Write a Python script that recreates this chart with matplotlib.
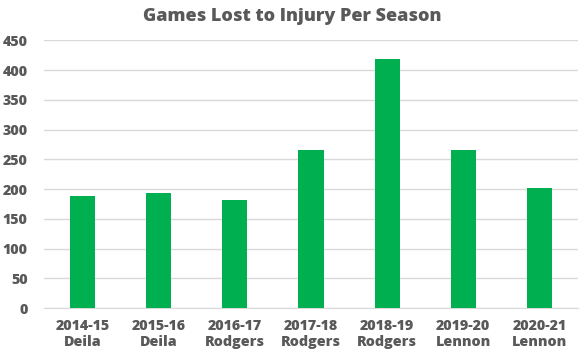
import matplotlib.pyplot as plt
import numpy as np

seasons = ["2014-15", "2015-16", "2016-17", "2017-18", "2018-19", "2019-20", "2020-21"]
managers = ["Deila", "Deila", "Rodgers", "Rodgers", "Rodgers", "Lennon", "Lennon"]
games_lost = [189, 193, 182, 266, 419, 266, 202]

text_col = "#595959"
plt.rcParams['font.family'] = ['Open Sans', 'DejaVu Sans']

fig = plt.figure(figsize=(5.84, 3.57), dpi=100)
ax = fig.add_axes([0.076, 0.137, 0.913, 0.7496])

x = np.arange(len(seasons))
ax.bar(x, games_lost, width=0.33, color="#00B050", zorder=3)

ax.set_ylim(0, 450)
ax.set_xlim(-0.5, len(seasons) - 0.5)
ax.set_yticks(range(0, 451, 50))
ax.yaxis.grid(True, color="#D9D9D9", linewidth=1, zorder=0)
ax.set_xticks(x)
ax.set_xticklabels([s + "\n" + m for s, m in zip(seasons, managers)],
                   fontsize=10.3, fontweight=800, color=text_col, linespacing=1.2)
for lbl in ax.get_yticklabels():
    lbl.set_fontsize(10.3)
    lbl.set_fontweight(800)
    lbl.set_color(text_col)
ax.tick_params(axis="both", length=0)
ax.tick_params(axis="y", pad=12)
ax.tick_params(axis="x", pad=8)
for side in ["top", "right", "left"]:
    ax.spines[side].set_visible(False)
ax.spines["bottom"].set_color("#D9D9D9")

fig.text(0.50, 0.955, "Games Lost to Injury Per Season", ha="center", va="center",
         fontsize=13, fontweight=800, color=text_col)

fig.savefig("out.png", dpi=100)
